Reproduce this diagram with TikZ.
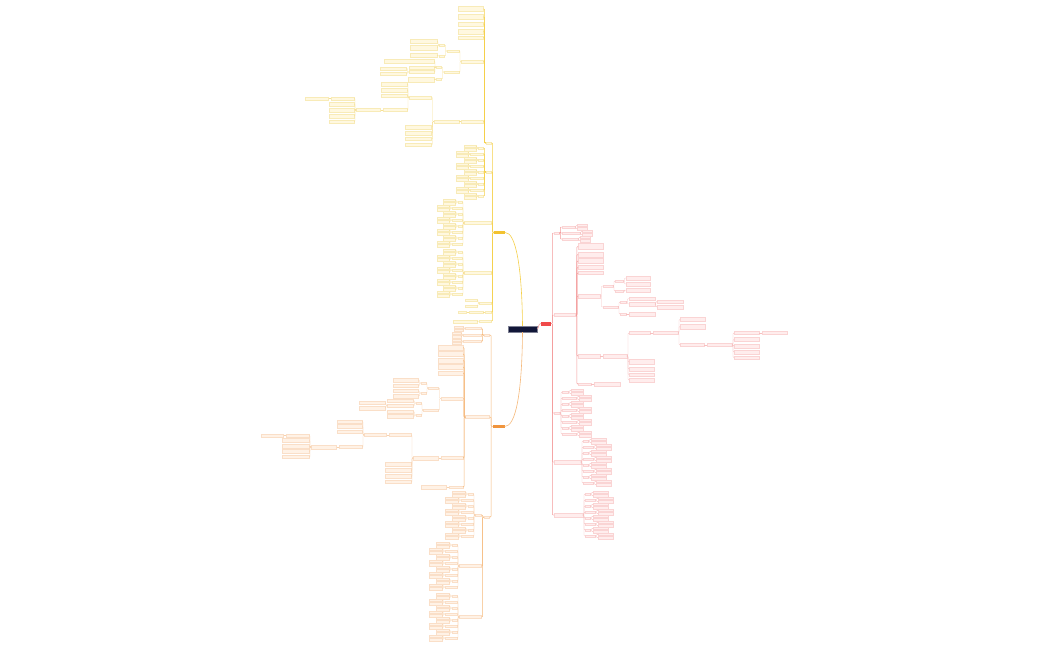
\documentclass[tikz,border=0pt]{standalone}
\usepackage{tikz}
\usetikzlibrary{calc}

\definecolor{navy}{HTML}{111638}
\definecolor{ymain}{HTML}{F2C230}
\definecolor{ytrk}{HTML}{F5D04A}
\definecolor{yline}{HTML}{F7E094}
\definecolor{ybd}{HTML}{F8EBB8}
\definecolor{ybf}{HTML}{FFF8E0}
\definecolor{omain}{HTML}{F0943C}
\definecolor{otrk}{HTML}{F5B87A}
\definecolor{oline}{HTML}{F8D2AE}
\definecolor{obd}{HTML}{FADFC8}
\definecolor{obf}{HTML}{FFF2E6}
\definecolor{rmain}{HTML}{F04A4A}
\definecolor{rtrk}{HTML}{F39A9A}
\definecolor{rline}{HTML}{F7C0C0}
\definecolor{rbd}{HTML}{FAD4D4}
\definecolor{rbf}{HTML}{FFEDED}

\tikzset{
  ybox/.style 2 args={draw=ybd,fill=ybf,line width=0.25pt,inner sep=0pt,minimum width=#1,minimum height=#2,anchor=east},
  obox/.style 2 args={draw=obd,fill=obf,line width=0.25pt,inner sep=0pt,minimum width=#1,minimum height=#2,anchor=east},
  rbox/.style 2 args={draw=rbd,fill=rbf,line width=0.25pt,inner sep=0pt,minimum width=#1,minimum height=#2,anchor=west},
  ytrunk/.style={draw=ytrk,line width=0.5pt,rounded corners=0.8pt},
  otrunk/.style={draw=otrk,line width=0.5pt,rounded corners=0.8pt},
  rtrunk/.style={draw=rtrk,line width=0.5pt,rounded corners=0.8pt},
  ylk/.style={draw=yline,line width=0.35pt,rounded corners=0.8pt},
  olk/.style={draw=oline,line width=0.35pt,rounded corners=0.8pt},
  rlk/.style={draw=rline,line width=0.35pt,rounded corners=0.8pt},
  topic/.style={inner sep=0pt,minimum height=3.6,anchor=center}
}

\begin{document}
\begin{tikzpicture}[x=1pt,y=-1pt]
  \useasboundingbox (0,0) rectangle (1050,650);

  % centre and main topics
  \node[topic,fill=navy,draw=navy!55!white,line width=0.3pt,minimum width=29,minimum height=6] (ctr) at (522.5,329) {};
  \node[topic,fill=ymain,minimum width=11] (yel) at (499.5,232.5) {};
  \node[topic,fill=omain,minimum width=12] (ora) at (498.5,426.5) {};
  \node[topic,fill=rmain,minimum width=10,minimum height=4] (red) at (546,323.5) {};

  \draw[draw=ytrk,line width=0.6pt] (ctr.north) .. controls (522,268) and (516,232.5) .. (yel.east);
  \draw[draw=otrk,line width=0.6pt] (ctr.south) .. controls (522,392) and (516,426.5) .. (ora.east);
  \draw[draw=rtrk,line width=0.6pt] (ctr.east) .. controls (539,329) and (538,323.5) .. (red.west);

  % ---------------- yellow topic ----------------
  \node[ybox={5.5}{2.4}] (yA) at (491.5,143) {};
  \node[ybox={5.5}{2.4}] (yB) at (491.5,172) {};
  \node[ybox={27}{3}] (yC) at (491.5,223) {};
  \node[ybox={27}{3}] (yD) at (491.5,273) {};
  \node[ybox={12}{2.4}] (yE) at (491.5,303) {};
  \node[ybox={6}{2.4}] (yF) at (491.5,312) {};
  \node[ybox={12}{2.4}] (yG) at (491.5,321) {};
  \foreach \n in {yA,yB,yC,yD,yE,yF,yG}
    \draw[ytrunk] (yel.west) -- ++(-1.2,0) |- (\n.east);

  % yA, notes at the top
  \foreach \yy/\hh [count=\i] in {9/5,17/5,24/4,31.5/5,37.5/3}{
    \node[ybox={25}{\hh}] (yA-\i) at (483.5,\yy) {};
    \draw[ytrunk] (yA.west) -- ++(-1.2,0) |- (yA-\i.east);
  }
  \node[ybox={22}{3}] (yA1) at (483.5,61.5) {};
  \node[ybox={22}{3}] (yA2) at (483.5,121.5) {};
  \foreach \n in {yA1,yA2} \draw[ytrunk] (yA.west) -- ++(-1.2,0) |- (\n.east);

  \node[ybox={12}{2.5}] (yA1a) at (459,51) {};
  \node[ybox={15}{2.5}] (yA1b) at (459,72) {};
  \foreach \n in {yA1a,yA1b} \draw[ylk] (yA1.west) -- ++(-1.2,0) |- (\n.east);
  \node[ybox={5}{2.2}] (yA1a1) at (444.5,45) {};
  \node[ybox={5}{2.2}] (yA1a2) at (444.5,56) {};
  \foreach \n in {yA1a1,yA1a2} \draw[ylk] (yA1a.west) -- ++(-1.2,0) |- (\n.east);
  \node[ybox={27}{4}] (yA1a1-1) at (437,41.5) {};
  \node[ybox={27}{5}] (yA1a1-2) at (437,47.5) {};
  \node[ybox={27}{4}] (yA1a2-1) at (437,55.5) {};
  \foreach \n in {yA1a1-1,yA1a1-2} \draw[ylk] (yA1a1.west) -- ++(-1.2,0) |- (\n.east);
  \draw[ylk] (yA1a2.west) -- (yA1a2-1.east);

  \node[ybox={5}{2.2}] (yA1b1) at (441.5,67) {};
  \node[ybox={5}{2.2}] (yA1b2) at (441.5,79) {};
  \foreach \n in {yA1b1,yA1b2} \draw[ylk] (yA1b.west) -- ++(-1.2,0) |- (\n.east);
  \node[ybox={50}{4}] (yA1b1-1) at (434,61.5) {};
  \node[ybox={25}{2.5}] (yA1b1-2) at (434,67.5) {};
  \node[ybox={25}{3}] (yA1b1-3) at (434,72) {};
  \node[ybox={26}{5}] (yA1b2-1) at (434,79.5) {};
  \foreach \n in {yA1b1-1,yA1b1-2,yA1b1-3} \draw[ylk] (yA1b1.west) -- ++(-1.2,0) |- (\n.east);
  \draw[ylk] (yA1b2.west) -- ++(-1.2,0) |- (yA1b2-1.east);
  \node[ybox={26}{2.5}] (yA1b1-4) at (406.5,68.5) {};
  \node[ybox={26}{3}] (yA1b1-5) at (406.5,73.5) {};
  \foreach \n in {yA1b1-4,yA1b1-5} \draw[ylk] (yA1b1-3.west) -- ++(-1.2,0) |- (\n.east);

  \node[ybox={25}{3.5}] (yA2a) at (459,121.5) {};
  \draw[ylk] (yA2.west) -- (yA2a.east);
  \node[ybox={22}{2.5}] (yA3) at (431.5,97.5) {};
  \draw[ylk] (yA2a.west) -- ++(-1.2,0) |- (yA3.east);
  \foreach \yy/\hh [count=\i] in {127/4,133/4,139/3,144.5/3}{
    \node[ybox={26}{\hh}] (yA2a-\i) at (431.5,\yy) {};
    \draw[ylk] (yA2a.west) -- ++(-1.2,0) |- (yA2a-\i.east);
  }
  \foreach \yy/\hh [count=\i] in {84/4,90/4.5,95.5/3}{
    \node[ybox={26}{\hh}] (yA3-\i) at (407,\yy) {};
    \draw[ylk] (yA3.west) -- ++(-1.2,0) |- (yA3-\i.east);
  }
  \node[ybox={24}{3}] (yA4) at (407,110) {};
  \draw[ylk] (yA3.west) -- ++(-1.2,0) |- (yA4.east);
  \node[ybox={24}{3}] (yA5) at (380.5,110) {};
  \draw[ylk] (yA4.west) -- (yA5.east);
  \node[ybox={23}{2.5}] (yA6) at (354,98.5) {};
  \draw[ylk] (yA5.west) -- ++(-1.2,0) |- (yA6.east);
  \foreach \yy/\hh [count=\i] in {104/4,110/4,116/4,121.5/3}{
    \node[ybox={25}{\hh}] (yA5-\i) at (354,\yy) {};
    \draw[ylk] (yA5.west) -- ++(-1.2,0) |- (yA5-\i.east);
  }
  \node[ybox={23}{2.5}] (yA7) at (328.5,98.5) {};
  \draw[ylk] (yA6.west) -- (yA7.east);

  % yB, yC, yD, small pairs
  \foreach \yy/\ww [count=\i] in {148/5,154/13,160/5,166/13,172/5,178/13,184/5,190/13,196/5}{
    \node[ybox={\ww}{2.2}] (yB-\i) at (483.5,\yy) {};
    \draw[ytrunk] (yB.west) -- ++(-1.2,0) |- (yB-\i.east);
    \foreach \dy [count=\j] in {-1.6,1.6}{
      \node[ybox={12}{2.2}] (yB-\i-\j) at ($(yB-\i.west)+(-2.5,\dy)$) {};
      \draw[ylk] (yB-\i.west) -- ++(-1.2,0) |- (yB-\i-\j.east);
    }
  }
  \foreach \yy/\ww [count=\i] in {202/4,208/10,214/4,220/10,226/4,232/10,238/4,244/10}{
    \node[ybox={\ww}{2.2}] (yC-\i) at (462,\yy) {};
    \draw[ylk] (yC.west) -- ++(-1.2,0) |- (yC-\i.east);
    \foreach \dy [count=\j] in {-1.6,1.6}{
      \node[ybox={12}{2.2}] (yC-\i-\j) at ($(yC-\i.west)+(-2.5,\dy)$) {};
      \draw[ylk] (yC-\i.west) -- ++(-1.2,0) |- (yC-\i-\j.east);
    }
  }
  \foreach \yy/\ww [count=\i] in {252/4,258/10,264/4,270/10,276/4,282/10,288/4,294/10}{
    \node[ybox={\ww}{2.2}] (yD-\i) at (462,\yy) {};
    \draw[ylk] (yD.west) -- ++(-1.2,0) |- (yD-\i.east);
    \foreach \dy [count=\j] in {-1.6,1.6}{
      \node[ybox={12}{2.2}] (yD-\i-\j) at ($(yD-\i.west)+(-2.5,\dy)$) {};
      \draw[ylk] (yD-\i.west) -- ++(-1.2,0) |- (yD-\i-\j.east);
    }
  }

  % yE, yF, yG
  \node[ybox={12}{2.2}] (yE-1) at (477,300) {};
  \node[ybox={12}{2.2}] (yE-2) at (477,306) {};
  \foreach \n in {yE-1,yE-2} \draw[ylk] (yE.west) -- ++(-1.2,0) |- (\n.east);
  \node[ybox={14}{2.2}] (yF-1) at (483,312) {};
  \node[ybox={8}{2.2}] (yF-2) at (466.5,312) {};
  \draw[ylk] (yF.west) -- (yF-1.east);
  \draw[ylk] (yF-1.west) -- (yF-2.east);
  \node[ybox={24}{3}] (yG-1) at (477,321.5) {};
  \draw[ylk] (yG.west) -- (yG-1.east);

  % ---------------- orange topic ----------------
  \node[obox={5.5}{2.4}] (oA) at (489.5,335) {};
  \node[obox={24}{3}] (oB) at (489.5,417) {};
  \node[obox={5.5}{2.4}] (oD) at (489.5,517) {};
  \foreach \n in {oA,oB,oD}
    \draw[otrunk] (ora.west) -- ++(-1.2,0) |- (\n.east);

  \foreach \yy/\ww [count=\i] in {328.5/16,335/18,341.5/18}{
    \node[obox={\ww}{2.2}] (oA-\i) at (481.5,\yy) {};
    \draw[otrunk] (oA.west) -- ++(-1.2,0) |- (oA-\i.east);
    \foreach \dy [count=\j] in {-1.6,1.6}{
      \node[obox={9}{2.2}] (oA-\i-\j) at ($(oA-\i.west)+(-2.5,\dy)$) {};
      \draw[olk] (oA-\i.west) -- ++(-1.2,0) |- (oA-\i-\j.east);
    }
  }

  % oB, long notes
  \foreach \yy/\hh [count=\i] in {347.5/5,354/5,360.5/5,367/5,373/4}{
    \node[obox={25}{\hh}] (oB-\i) at (463,\yy) {};
    \draw[otrunk] (oB.west) -- ++(-1.2,0) |- (oB-\i.east);
  }
  \node[obox={22}{3.5}] (oB1) at (463,398.5) {};
  \node[obox={22}{3}] (oB2) at (463,458) {};
  \node[obox={14}{2.5}] (oB3) at (463,487) {};
  \foreach \n in {oB1,oB2,oB3} \draw[otrunk] (oB.west) -- ++(-1.2,0) |- (\n.east);

  \node[obox={10}{2.5}] (oB1a) at (438.5,388) {};
  \node[obox={15}{2.5}] (oB1b) at (438.5,410) {};
  \foreach \n in {oB1a,oB1b} \draw[olk] (oB1.west) -- ++(-1.2,0) |- (\n.east);
  \node[obox={5}{2.2}] (oB1a1) at (426,383) {};
  \node[obox={5}{2.2}] (oB1a2) at (426,393) {};
  \foreach \n in {oB1a1,oB1a2} \draw[olk] (oB1a.west) -- ++(-1.2,0) |- (\n.east);
  \node[obox={25}{4}] (oB1a1-1) at (418.5,380) {};
  \node[obox={25}{3}] (oB1a1-2) at (418.5,385.5) {};
  \node[obox={25}{3}] (oB1a2-1) at (418.5,391) {};
  \node[obox={25}{4}] (oB1a2-2) at (418.5,396) {};
  \foreach \n in {oB1a1-1,oB1a1-2} \draw[olk] (oB1a1.west) -- ++(-1.2,0) |- (\n.east);
  \foreach \n in {oB1a2-1,oB1a2-2} \draw[olk] (oB1a2.west) -- ++(-1.2,0) |- (\n.east);
  \node[obox={5}{2.2}] (oB1b1) at (421,403) {};
  \node[obox={5}{2.2}] (oB1b2) at (421,415) {};
  \foreach \n in {oB1b1,oB1b2} \draw[olk] (oB1b.west) -- ++(-1.2,0) |- (\n.east);
  \node[obox={26}{3.5}] (oB1b1-1) at (413.5,400.5) {};
  \node[obox={26}{3}] (oB1b1-2) at (413.5,405.5) {};
  \node[obox={26}{3}] (oB1b2-1) at (413.5,411.5) {};
  \node[obox={26}{4}] (oB1b2-2) at (413.5,416.5) {};
  \foreach \n in {oB1b1-1,oB1b1-2} \draw[olk] (oB1b1.west) -- ++(-1.2,0) |- (\n.east);
  \foreach \n in {oB1b2-1,oB1b2-2} \draw[olk] (oB1b2.west) -- ++(-1.2,0) |- (\n.east);
  \node[obox={26}{3}] (oB1b1-3) at (385,403) {};
  \node[obox={26}{4}] (oB1b1-4) at (385,408) {};
  \foreach \n in {oB1b1-3,oB1b1-4} \draw[olk] (oB1b1-2.west) -- ++(-1.2,0) |- (\n.east);

  \node[obox={25}{4}] (oB2a) at (438.5,458) {};
  \draw[olk] (oB2.west) -- (oB2a.east);
  \node[obox={22}{3}] (oB2b) at (411,435) {};
  \draw[olk] (oB2a.west) -- ++(-1.2,0) |- (oB2b.east);
  \foreach \yy/\hh [count=\i] in {464.5/4,470.5/4,476.5/4,482/3}{
    \node[obox={26}{\hh}] (oB2a-\i) at (411,\yy) {};
    \draw[olk] (oB2a.west) -- ++(-1.2,0) |- (oB2a-\i.east);
  }
  \node[obox={22}{3}] (oB2c) at (386.5,435) {};
  \draw[olk] (oB2b.west) -- (oB2c.east);
  \foreach \yy/\hh [count=\i] in {421.5/3,426.5/4,431.5/3}{
    \node[obox={25}{\hh}] (oB2c-\i) at (362,\yy) {};
    \draw[olk] (oB2c.west) -- ++(-1.2,0) |- (oB2c-\i.east);
  }
  \node[obox={23}{3}] (oB2d) at (362,447) {};
  \draw[olk] (oB2c.west) -- ++(-1.2,0) |- (oB2d.east);
  \node[obox={25}{3.5}] (oB2e) at (336.5,447) {};
  \draw[olk] (oB2d.west) -- (oB2e.east);
  \node[obox={23}{2.5}] (oB2f) at (309,435.5) {};
  \draw[olk] (oB2e.west) -- ++(-1.2,0) |- (oB2f.east);
  \foreach \yy/\hh [count=\i] in {440.5/4,446/4,451.5/4,457/3}{
    \node[obox={27}{\hh}] (oB2e-\i) at (309,\yy) {};
    \draw[olk] (oB2e.west) -- ++(-1.2,0) |- (oB2e-\i.east);
  }
  \node[obox={22}{2.5}] (oB2g) at (283.5,435.5) {};
  \draw[olk] (oB2f.west) -- (oB2g.east);
  \node[obox={25}{3.5}] (oB3a) at (446.5,487) {};
  \draw[olk] (oB3.west) -- (oB3a.east);

  % oD, small pairs
  \node[obox={6}{2.4}] (oD1) at (481.5,515) {};
  \node[obox={22}{3}] (oD2) at (481.5,566) {};
  \node[obox={22}{3}] (oD3) at (481.5,617) {};
  \foreach \n in {oD1,oD2,oD3} \draw[otrunk] (oD.west) -- ++(-1.2,0) |- (\n.east);
  \foreach \yy/\ww [count=\i] in {494/5,500/12,506/5,512/12,518/5,524/12,530/5,536/12}{
    \node[obox={\ww}{2.2}] (oD1-\i) at (473,\yy) {};
    \draw[olk] (oD1.west) -- ++(-1.2,0) |- (oD1-\i.east);
    \foreach \dy [count=\j] in {-1.6,1.6}{
      \node[obox={13}{2.2}] (oD1-\i-\j) at ($(oD1-\i.west)+(-2.5,\dy)$) {};
      \draw[olk] (oD1-\i.west) -- ++(-1.2,0) |- (oD1-\i-\j.east);
    }
  }
  \foreach \yy/\ww [count=\i] in {545/5,551/12,557/5,563/12,569/5,575/12,581/5,587/12}{
    \node[obox={\ww}{2.2}] (oD2-\i) at (457,\yy) {};
    \draw[olk] (oD2.west) -- ++(-1.2,0) |- (oD2-\i.east);
    \foreach \dy [count=\j] in {-1.6,1.6}{
      \node[obox={13}{2.2}] (oD2-\i-\j) at ($(oD2-\i.west)+(-2.5,\dy)$) {};
      \draw[olk] (oD2-\i.west) -- ++(-1.2,0) |- (oD2-\i-\j.east);
    }
  }
  \foreach \yy/\ww [count=\i] in {596/5,602/12,608/5,614/12,620/5,626/12,632/5,638/12}{
    \node[obox={\ww}{2.2}] (oD3-\i) at (457,\yy) {};
    \draw[olk] (oD3.west) -- ++(-1.2,0) |- (oD3-\i.east);
    \foreach \dy [count=\j] in {-1.6,1.6}{
      \node[obox={13}{2.2}] (oD3-\i-\j) at ($(oD3-\i.west)+(-2.5,\dy)$) {};
      \draw[olk] (oD3-\i.west) -- ++(-1.2,0) |- (oD3-\i-\j.east);
    }
  }

  % ---------------- red topic ----------------
  \node[rbox={5.5}{2.4}] (rA) at (553.5,233) {};
  \node[rbox={22}{3}] (rB) at (553.5,315) {};
  \node[rbox={6}{2.4}] (rC) at (553.5,413) {};
  \node[rbox={27}{3.5}] (rD) at (553.5,462) {};
  \node[rbox={29}{3.5}] (rE) at (553.5,515) {};
  \foreach \n in {rA,rB,rC,rD,rE}
    \draw[rtrunk] (red.east) -- ++(1.2,0) |- (\n.west);

  \foreach \yy/\ww [count=\i] in {227/13,233/18,239/16}{
    \node[rbox={\ww}{2.2}] (rA-\i) at (561.5,\yy) {};
    \draw[rtrunk] (rA.east) -- ++(1.2,0) |- (rA-\i.west);
    \foreach \dy [count=\j] in {-1.6,1.6}{
      \node[rbox={10}{2.2}] (rA-\i-\j) at ($(rA-\i.east)+(2.5,\dy)$) {};
      \draw[rlk] (rA-\i.east) -- ++(1.2,0) |- (rA-\i-\j.west);
    }
  }

  % rB, long notes
  \foreach \yy/\hh [count=\i] in {246.5/6,254.5/5,261/5,267.5/4,273/3}{
    \node[rbox={25}{\hh}] (rB-\i) at (578,\yy) {};
    \draw[rtrunk] (rB.east) -- ++(1.2,0) |- (rB-\i.west);
  }
  \node[rbox={22}{4}] (rB1) at (578,296) {};
  \node[rbox={22}{4}] (rB2) at (578,356) {};
  \node[rbox={13}{2.5}] (rB3) at (578,384) {};
  \foreach \n in {rB1,rB2,rB3} \draw[rtrunk] (rB.east) -- ++(1.2,0) |- (\n.west);

  \node[rbox={10}{2.5}] (rB1a) at (602.5,286) {};
  \node[rbox={15}{2.5}] (rB1b) at (602.5,307) {};
  \foreach \n in {rB1a,rB1b} \draw[rlk] (rB1.east) -- ++(1.2,0) |- (\n.west);
  \node[rbox={8}{2.2}] (rB1a1) at (615,281) {};
  \node[rbox={8}{2.2}] (rB1a2) at (615,291) {};
  \foreach \n in {rB1a1,rB1a2} \draw[rlk] (rB1a.east) -- ++(1.2,0) |- (\n.west);
  \node[rbox={24}{4}] (rB1a1-1) at (625.5,278) {};
  \node[rbox={24}{3.5}] (rB1a1-2) at (625.5,284) {};
  \node[rbox={24}{4}] (rB1a2-1) at (625.5,290.5) {};
  \foreach \n in {rB1a1-1,rB1a1-2} \draw[rlk] (rB1a1.east) -- ++(1.2,0) |- (\n.west);
  \draw[rlk] (rB1a2.east) -- ++(1.2,0) |- (rB1a2-1.west);
  \node[rbox={6}{2.2}] (rB1b1) at (620,302) {};
  \node[rbox={6}{2.2}] (rB1b2) at (620,314) {};
  \foreach \n in {rB1b1,rB1b2} \draw[rlk] (rB1b.east) -- ++(1.2,0) |- (\n.west);
  \node[rbox={26}{3}] (rB1b1-1) at (628.5,298.5) {};
  \node[rbox={26}{4}] (rB1b1-2) at (628.5,304) {};
  \node[rbox={26}{4}] (rB1b2-1) at (628.5,314) {};
  \foreach \n in {rB1b1-1,rB1b1-2} \draw[rlk] (rB1b1.east) -- ++(1.2,0) |- (\n.west);
  \draw[rlk] (rB1b2.east) -- (rB1b2-1.west);
  \node[rbox={26}{3}] (rB1b1-3) at (657,301.5) {};
  \node[rbox={26}{4}] (rB1b1-4) at (657,307) {};
  \foreach \n in {rB1b1-3,rB1b1-4} \draw[rlk] (rB1b1-2.east) -- ++(1.2,0) |- (\n.west);

  \node[rbox={24}{4}] (rB2a) at (602.5,356) {};
  \draw[rlk] (rB2.east) -- (rB2a.west);
  \node[rbox={21}{3}] (rB2b) at (629,333) {};
  \draw[rlk] (rB2a.east) -- ++(1.2,0) |- (rB2b.west);
  \foreach \yy/\hh [count=\i] in {362/5,369/4,374.5/3,380/4}{
    \node[rbox={25}{\hh}] (rB2a-\i) at (629,\yy) {};
    \draw[rlk] (rB2a.east) -- ++(1.2,0) |- (rB2a-\i.west);
  }
  \node[rbox={25}{3}] (rB2c) at (652.5,333) {};
  \draw[rlk] (rB2b.east) -- (rB2c.west);
  \foreach \yy/\hh [count=\i] in {319.5/4,326.5/5}{
    \node[rbox={25}{\hh}] (rB2c-\i) at (680,\yy) {};
    \draw[rlk] (rB2c.east) -- ++(1.2,0) |- (rB2c-\i.west);
  }
  \node[rbox={24}{3}] (rB2d) at (680,345) {};
  \draw[rlk] (rB2c.east) -- ++(1.2,0) |- (rB2d.west);
  \node[rbox={25}{3}] (rB2e) at (706.5,345) {};
  \draw[rlk] (rB2d.east) -- (rB2e.west);
  \node[rbox={25}{3}] (rB2f) at (734,333) {};
  \draw[rlk] (rB2e.east) -- ++(1.2,0) |- (rB2f.west);
  \foreach \yy/\hh [count=\i] in {339.5/4,346/4,352/4,357.5/3}{
    \node[rbox={25}{\hh}] (rB2e-\i) at (734,\yy) {};
    \draw[rlk] (rB2e.east) -- ++(1.2,0) |- (rB2e-\i.west);
  }
  \node[rbox={25}{3}] (rB2g) at (761.5,333) {};
  \draw[rlk] (rB2f.east) -- (rB2g.west);
  \node[rbox={26}{3.5}] (rB3a) at (593.5,384) {};
  \draw[rlk] (rB3.east) -- (rB3a.west);

  % rC, rD, rE, small pairs
  \foreach \yy/\ww [count=\i] in {392/6,398/14,404/6,410/14,416/6,422/14,428/6,434/14}{
    \node[rbox={\ww}{2.2}] (rC-\i) at (562,\yy) {};
    \draw[rlk] (rC.east) -- ++(1.2,0) |- (rC-\i.west);
    \foreach \dy [count=\j] in {-1.6,1.6}{
      \node[rbox={12}{2.2}] (rC-\i-\j) at ($(rC-\i.east)+(2.5,\dy)$) {};
      \draw[rlk] (rC-\i.east) -- ++(1.2,0) |- (rC-\i-\j.west);
    }
  }
  \foreach \yy/\ww [count=\i] in {441/5,447/10,453/5,459/10,465/5,471/10,477/5,483/10}{
    \node[rbox={\ww}{2.2}] (rD-\i) at (583,\yy) {};
    \draw[rlk] (rD.east) -- ++(1.2,0) |- (rD-\i.west);
    \foreach \dy [count=\j] in {-1.6,1.6}{
      \node[rbox={15}{2.2}] (rD-\i-\j) at ($(rD-\i.east)+(2.5,\dy)$) {};
      \draw[rlk] (rD-\i.east) -- ++(1.2,0) |- (rD-\i-\j.west);
    }
  }
  \foreach \yy/\ww [count=\i] in {494/5,500/10,506/5,512/10,518/5,524/10,530/5,536/10}{
    \node[rbox={\ww}{2.2}] (rE-\i) at (585,\yy) {};
    \draw[rlk] (rE.east) -- ++(1.2,0) |- (rE-\i.west);
    \foreach \dy [count=\j] in {-1.6,1.6}{
      \node[rbox={15}{2.2}] (rE-\i-\j) at ($(rE-\i.east)+(2.5,\dy)$) {};
      \draw[rlk] (rE-\i.east) -- ++(1.2,0) |- (rE-\i-\j.west);
    }
  }
\end{tikzpicture}
\end{document}
